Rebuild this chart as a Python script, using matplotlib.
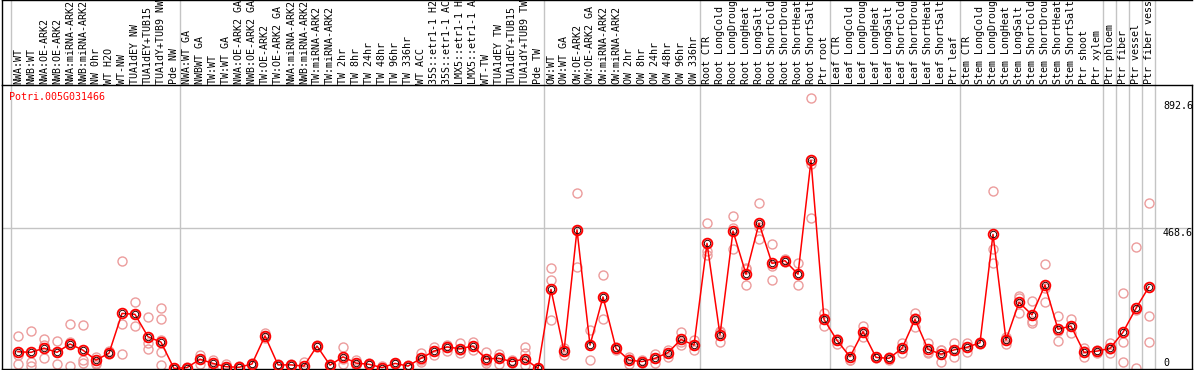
import matplotlib
matplotlib.use('Agg')
import matplotlib.pyplot as plt
import matplotlib.transforms as mtransforms
import numpy as np

gene = 'Potri.005G031466'

labels = ['NWA:WT', 'NWB:WT', 'NWA:OE-ARK2', 'NWB:OE-ARK2', 'NWA:miRNA-ARK2',
          'NWB:miRNA-ARK2', 'NW 0hr', 'WT H2O', 'WT-NW', 'TUA1dEY NW',
          'TUA1dEY+TUB15', 'TUA1dY+TUB9 NW', 'Pde NW',
          'NWA:WT GA', 'NWBWT GA', 'TW:WT', 'TW:WT GA', 'NWA:OE-ARK2 GA',
          'NWB:OE-ARK2 GA', 'TW:OE-ARK2', 'TW:OE-ARK2 GA', 'NWA:miRNA-ARK2',
          'NWB:miRNA-ARK2', 'TW:miRNA-ARK2', 'TW:miRNA-ARK2', 'TW 2hr', 'TW 8hr',
          'TW 24hr', 'TW 48hr', 'TW 96hr', 'TW 336hr', 'WT ACC',
          '35S::etr1-1 H2O', '35S::etr1-1 ACC', 'LMX5::etr1-1 H2O',
          'LMX5::etr1-1 ACC', 'WT-TW', 'TUA1dEY TW', 'TUA1dEY+TUB15',
          'TUA1dY+TUB9 TW', 'Pde TW',
          'OW:WT', 'OW:WT GA', 'OW:OE-ARK2', 'OW:OE-ARK2 GA', 'OW:miRNA-ARK2',
          'OW:miRNA-ARK2', 'OW 2hr', 'OW 8hr', 'OW 24hr', 'OW 48hr', 'OW 96hr',
          'OW 336hr',
          'Root CTR', 'Root LongCold', 'Root LongDrought', 'Root LongHeat',
          'Root LongSalt', 'Root ShortCold', 'Root ShortDrought', 'Root ShortHeat',
          'Root ShortSalt', 'Ptr root',
          'Leaf CTR', 'Leaf LongCold', 'Leaf LongDrought', 'Leaf LongHeat',
          'Leaf LongSalt', 'Leaf ShortCold', 'Leaf ShortDrought', 'Leaf ShortHeat',
          'Leaf ShortSalt', 'Ptr leaf',
          'Stem CTR', 'Stem LongCold', 'Stem LongDrought', 'Stem LongHeat',
          'Stem LongSalt', 'Stem ShortCold', 'Stem ShortDrought', 'Stem ShortHeat',
          'Stem ShortSalt', 'Ptr shoot', 'Ptr xylem',
          'Ptr phloem', 'Ptr fiber', 'Ptr vessel', 'Ptr fiber vessel']

group_sizes = [13, 28, 12, 10, 10, 11, 1, 1, 1, 1]

means = [56, 54, 68, 54, 82, 61, 28, 51, 184, 181, 106, 88, 0,
         3, 31, 17, 6, 4, 15, 109, 12, 12, 8, 75, 11, 39, 18, 14, 3, 17, 8,
         34, 58, 72, 66, 75, 32, 34, 23, 32, 0,
         264, 58, 463, 78, 239, 67, 28, 23, 34, 53, 97, 78,
         418, 112, 459, 315, 485, 351, 360, 315, 695, 164,
         94, 39, 123, 37, 34, 67, 164, 64, 48, 62,
         71, 86, 448, 95, 221, 179, 279, 131, 142, 54, 58,
         67, 121, 201, 273]

reps = [[110, 45, 16], [125, 23, 9], [98, 79, 34], [91, 56, 16], [148, 90, 8],
        [145, 28, 17], [39, 19, 15], [60, 53, 48], [359, 148, 48], [221, 142, 181],
        [171, 84, 64], [201, 164, 95, 54, 12], [2, 0, 0],
        [5, 2, 1], [45, 31, 16], [28, 17, 1], [15, 3, 1], [9, 2, 1], [17, 15, 13],
        [118, 108, 101], [14, 12, 10], [14, 12, 10], [23, 3, 1], [78, 75, 72],
        [14, 10, 8], [71, 33, 14], [28, 18, 12], [17, 14, 11], [7, 2, 0],
        [20, 17, 14], [12, 8, 5], [51, 30, 23], [73, 58, 45], [80, 72, 60],
        [84, 63, 51], [90, 74, 62], [54, 24, 17], [48, 40, 14], [27, 22, 18],
        [73, 53, 12], [3, 1, 0],
        [335, 296, 162], [67, 58, 45], [585, 462, 338], [129, 78, 28],
        [311, 240, 164], [72, 67, 62], [37, 32, 15], [27, 23, 18], [48, 34, 20],
        [62, 53, 37], [123, 90, 78], [95, 78, 62],
        [485, 392, 378], [125, 123, 88], [509, 470, 399], [335, 332, 278],
        [552, 471, 432], [415, 343, 296], [365, 360, 355], [351, 315, 278],
        [902, 683, 502], [186, 164, 142],
        [98, 94, 81], [62, 28, 27], [143, 123, 104], [40, 37, 35], [40, 34, 28],
        [84, 67, 52], [186, 168, 139], [84, 56, 53], [62, 61, 23], [84, 62, 39],
        [84, 72, 56], [90, 86, 82], [594, 398, 351], [106, 99, 81],
        [242, 235, 186], [226, 158, 153], [348, 268, 221], [175, 125, 93],
        [165, 142, 120], [67, 58, 37], [62, 58, 52],
        [84, 65, 53], [251, 88, 21], [407, 196, 0], [554, 175, 88]]

yticks = [892.6, 468.6, 0]

W, H = 1194, 370
fig = plt.figure(figsize=(W / 100, H / 100), dpi=100)
font = 'DejaVu Sans Mono'
fs = 7.2
grey = '#c4c4c4'

x = np.arange(len(labels))
xlim = ((1.5 - 11.5) / 13 - 0.5, (1192 - 11.5) / 13 - 0.5)
bounds = np.concatenate([[0], np.cumsum(group_sizes)]) - 0.5

# header with the sample names
hx = fig.add_axes([1.5 / W, 285 / H, 1190.5 / W, 85 / H])
hx.set_xlim(xlim)
hx.set_ylim(85, 0)
hx.set_xticks([])
hx.set_yticks([])
for s in ['bottom', 'right']:
    hx.spines[s].set_visible(False)
for s in ['top', 'left']:
    hx.spines[s].set_linewidth(1.0)
for b in bounds:
    hx.axvline(b, color=grey, lw=1)
for i, lab in enumerate(labels):
    hx.text(i, 83.5, lab, rotation=90, ha='center', va='bottom',
            family=font, fontsize=fs, color='black', clip_on=True)

# plot area
ax = fig.add_axes([1.5 / W, 1 / H, 1190.5 / W, 284 / H])
ax.set_xlim(xlim)
ax.set_ylim(-1.7, 946.9)
ax.set_xticks([])
ax.set_yticks([])
for s in ax.spines.values():
    s.set_linewidth(1.0)
for b in bounds:
    ax.axvline(b, color=grey, lw=1, zorder=1)
ax.axhline(yticks[1], color=grey, lw=1, zorder=1)

rx = [i for i, r in enumerate(reps) for _ in r]
ry = [v for r in reps for v in r]
ax.plot(rx, ry, 'o', ls='none', ms=6.5, mfc='none', mec='#ec9c9c', mew=1.0, zorder=2)
ax.plot(x, means, '-', color='red', lw=1.1, zorder=3)
ax.plot(x, means, 'o', ls='none', ms=7, mfc='none', mec='red', mew=1.3, zorder=4)
ax.plot(x, means, 'o', ls='none', ms=4.6, mfc='none', mec='#300000', mew=0.7, zorder=5)

ax.text((9.3 - 1.5) / 1190.5, 1 - (96.7 - 85) / 284, gene, transform=ax.transAxes,
        family=font, fontsize=fs, color='red', ha='left', va='center')

trans = mtransforms.blended_transform_factory(ax.transAxes, ax.transData)
for v in yticks:
    txt = ('%.1f' % v) if v else '0'
    ax.text((1163 - 1.5) / 1190.5, v, txt, transform=trans, family=font,
            fontsize=fs, color='black', ha='left',
            va='top' if v else 'bottom')

fig.savefig('out.png', dpi=100)
